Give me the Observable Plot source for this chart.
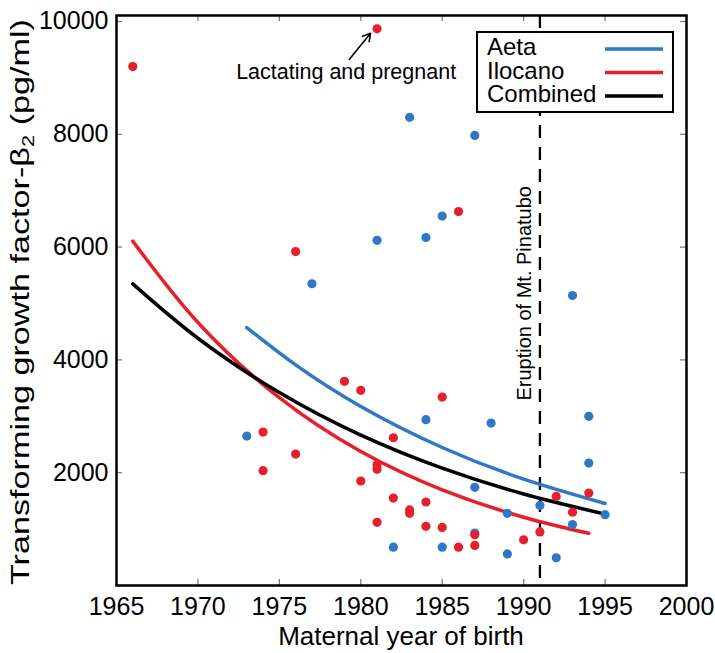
<!DOCTYPE html>
<html>
<head>
<meta charset="utf-8">
<script src="https://cdn.jsdelivr.net/npm/d3@7"></script>
<script src="https://cdn.jsdelivr.net/npm/@observablehq/plot@0.6"></script>
<style>
  body { margin: 0; background: #fff; }
  svg { font-family: "Liberation Sans", Arial, sans-serif; }
</style>
</head>
<body>
<div id="chart"></div>
<script>
// ---- data ----
const aetaYear  = [1983, 1987, 1985, 1984, 1981, 1993, 1977, 1973, 1984, 1988, 1994, 1994, 1987, 1991, 1989, 1995, 1993, 1987, 1982, 1985, 1989, 1992];
const aetaValue = [8300, 7980, 6550, 6170, 6120, 5140, 5350, 2650, 2940, 2880, 3000, 2170, 1740, 1420, 1280, 1255, 1080, 930, 680, 680, 560, 490];

const ilocanoYear  = [1966, 1981, 1976, 1986, 1974, 1974, 1976, 1979, 1980, 1980, 1985, 1982, 1981, 1981, 1982, 1983, 1983, 1984, 1981, 1984, 1985, 1986, 1987, 1987, 1990, 1991, 1992, 1993, 1994];
const ilocanoValue = [9200, 9870, 5920, 6630, 2720, 2035, 2330, 3620, 3460, 1853, 3340, 2620, 2140, 2060, 1550, 1340, 1280, 1480, 1120, 1050, 1030, 680, 900, 710, 810, 950, 1580, 1300, 1640];

// fitted curves
const aetaFitYear  = [1973, 1976, 1980, 1985, 1990, 1995];
const aetaFitValue = [4573, 3911, 3174, 2447, 1886, 1454];
const ilocanoFitYear  = [1966, 1970, 1975, 1980, 1985, 1990, 1994];
const ilocanoFitValue = [6106, 4663, 3329, 2376, 1697, 1211, 925];
const combinedFitYear  = [1966, 1970, 1975, 1980, 1985, 1990, 1995];
const combinedFitValue = [5348, 4384, 3420, 2666, 2080, 1623, 1265];

const xTicks = [1965, 1970, 1975, 1980, 1985, 1990, 1995, 2000];
const yTicks = [2000, 4000, 6000, 8000, 10000];
const eruptionYear = 1991;
const eruptionLabel = "Eruption of Mt. Pinatubo";
const noteLabel = "Lactating and pregnant";
const seriesNames = ["Aeta", "Ilocano", "Combined"];
const seriesColors = ["#2f78c4", "#e5202b", "#000000"];

// anchors of the annotations (data units)
const noteAnchor = [{x: 1979.1, y: 9110, text: noteLabel}];
const noteArrow = [{x1: 1979.3, y1: 9330, x2: 1980.6, y2: 9790}];
const eruptionAnchor = [{x: eruptionYear, y: 5180, text: eruptionLabel}];

// ---- tables ----
const aeta = aetaYear.map((x, i) => ({x, y: aetaValue[i]}));
const ilocano = ilocanoYear.map((x, i) => ({x, y: ilocanoValue[i]}));
const aetaFit = aetaFitYear.map((x, i) => ({x, y: aetaFitValue[i]}));
const ilocanoFit = ilocanoFitYear.map((x, i) => ({x, y: ilocanoFitValue[i]}));
const combinedFit = combinedFitYear.map((x, i) => ({x, y: combinedFitValue[i]}));

const W = 715, H = 653, mL = 116, mR = 29, mT = 15, mB = 68;
const plotW = W - mL - mR, plotH = H - mT - mB;
const tickLen = 6;

const chart = Plot.plot({
  width: W, height: H,
  marginLeft: mL, marginRight: mR, marginTop: mT, marginBottom: mB,
  x: {domain: [1965, 2000]},
  y: {domain: [0, 10106]},
  style: {fontFamily: "Liberation Sans, Arial, sans-serif", background: "white", color: "black"},
  marks: [
    Plot.axisX({ticks: xTicks, tickSize: 0, tickPadding: 12, fontSize: 25, label: null, tickFormat: d => String(d)}),
    Plot.axisY({ticks: yTicks, tickSize: 0, tickPadding: 8, fontSize: 25, label: null, tickFormat: d => String(d)}),
    // inward ticks on all four sides
    Plot.tickX(xTicks, {x: d => d, insetTop: plotH - tickLen, stroke: "#777", strokeWidth: 1.2}),
    Plot.tickX(xTicks, {x: d => d, insetBottom: plotH - tickLen, stroke: "#777", strokeWidth: 1.2}),
    Plot.tickY(yTicks, {y: d => d, insetRight: plotW - tickLen, stroke: "#777", strokeWidth: 1.2}),
    Plot.tickY(yTicks, {y: d => d, insetLeft: plotW - tickLen, stroke: "#777", strokeWidth: 1.2}),
    // eruption line
    Plot.ruleX([eruptionYear], {x: d => d, stroke: "black", strokeWidth: 2.3, strokeDasharray: "13,9"}),
    Plot.text(eruptionAnchor, {x: "x", y: "y", text: "text", rotate: -90, dx: -15, fontSize: 20, fill: "black"}),
    // fitted curves
    Plot.line(aetaFit, {x: "x", y: "y", stroke: seriesColors[0], strokeWidth: 3.5, curve: "natural"}),
    Plot.line(ilocanoFit, {x: "x", y: "y", stroke: seriesColors[1], strokeWidth: 3.5, curve: "natural"}),
    Plot.line(combinedFit, {x: "x", y: "y", stroke: seriesColors[2], strokeWidth: 3.5, curve: "natural"}),
    // points
    Plot.dot(aeta, {x: "x", y: "y", r: 4.6, fill: seriesColors[0], stroke: null}),
    Plot.dot(ilocano, {x: "x", y: "y", r: 4.6, fill: seriesColors[1], stroke: null}),
    // annotation
    Plot.arrow(noteArrow, {x1: "x1", y1: "y1", x2: "x2", y2: "y2", stroke: "black", strokeWidth: 1.6, headLength: 8}),
    Plot.text(noteAnchor, {x: "x", y: "y", text: "text", fontSize: 21.5, fill: "black"}),
    Plot.frame({stroke: "black", strokeWidth: 2.5})
  ]
});

const svg = d3.select(chart);

// axis titles
svg.append("text")
  .attr("x", mL + plotW / 2).attr("y", 645)
  .attr("text-anchor", "middle")
  .attr("font-size", 26).attr("fill", "black")
  .text("Maternal year of birth");

const yl = svg.append("text")
  .attr("transform", `translate(29,${mT + plotH / 2 + 2}) rotate(-90)`)
  .attr("text-anchor", "middle")
  .attr("textLength", 566).attr("lengthAdjust", "spacingAndGlyphs")
  .attr("font-size", 25).attr("fill", "black");
yl.append("tspan").text("Transforming growth factor-β");
yl.append("tspan").attr("font-size", 16).attr("dy", 5).text("2");
yl.append("tspan").attr("dy", -5).text(" (pg/ml)");

// legend
const lg = svg.append("g").attr("text-anchor", "start");
lg.append("rect").attr("x", 477).attr("y", 32).attr("width", 196).attr("height", 80)
  .attr("fill", "white").attr("stroke", "black").attr("stroke-width", 2);
const rowBase = [55, 78.5, 102];
const rowLine = [49, 72.5, 96];
seriesNames.forEach((name, i) => {
  lg.append("text").attr("x", 487).attr("y", rowBase[i]).attr("text-anchor", "start")
    .attr("font-size", 24).attr("fill", "black").text(name);
  lg.append("line").attr("x1", 605).attr("x2", 663).attr("y1", rowLine[i]).attr("y2", rowLine[i])
    .attr("stroke", seriesColors[i]).attr("stroke-width", 3.5);
});

document.getElementById("chart").appendChild(chart);
</script>
</body>
</html>
